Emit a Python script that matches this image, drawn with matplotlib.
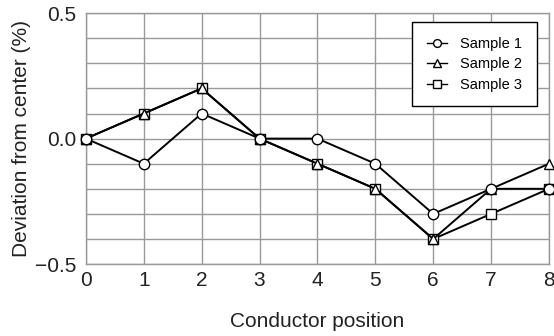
import matplotlib
matplotlib.use("Agg")
import matplotlib.pyplot as plt
import numpy as np

positions = [0, 1, 2, 3, 4, 5, 6, 7, 8]
sample1 = [0.0, -0.1, 0.1, 0.0, 0.0, -0.1, -0.3, -0.2, -0.2]
sample2 = [0.0, 0.1, 0.2, 0.0, -0.1, -0.2, -0.4, -0.2, -0.1]
sample3 = [0.0, 0.1, 0.2, 0.0, -0.1, -0.2, -0.4, -0.3, -0.2]

plt.rcParams['font.family'] = ['Liberation Sans', 'DejaVu Sans']

fig = plt.figure(figsize=(5.54, 3.36), dpi=100)
ax = fig.add_axes([0.155, 0.214, 0.836, 0.747])

common = dict(color='black', lw=1.4, mfc='white', mec='black', mew=1.0, ms=7.5, clip_on=False)
l3, = ax.plot(positions, sample3, marker='s', label='Sample 3', zorder=3, **common)
l2, = ax.plot(positions, sample2, marker='^', label='Sample 2', zorder=4, **common)
l1, = ax.plot(positions, sample1, marker='o', label='Sample 1', zorder=5, **common)

ax.set_xlim(0, 8)
ax.set_ylim(-0.5, 0.5)
ax.set_xticks(positions)
ax.set_yticks([-0.5, 0.0, 0.5])
ax.set_yticklabels(['\u22120.5', '0.0', '0.5'])
ax.set_yticks(np.arange(-0.5, 0.51, 0.1), minor=True)
ax.grid(True, which='both', color='#999999', lw=1.0)
ax.tick_params(which='both', length=0, labelsize=15, colors='#222222')
ax.tick_params(axis='y', pad=7)
ax.tick_params(axis='x', pad=5)
for s in ax.spines.values():
    s.set_color('#999999')
    s.set_linewidth(1.0)

ax.set_xlabel('Conductor position', fontsize=15, color='#222222', labelpad=16)
ax.set_ylabel('Deviation from center (%)', fontsize=15, color='#222222', labelpad=3)

leg = ax.legend([l1, l2, l3], ['Sample 1', 'Sample 2', 'Sample 3'],
                loc='upper right', bbox_to_anchor=(0.974, 0.964), borderaxespad=0,
                fontsize=10.5, markerscale=0.75, handlelength=1.4, fancybox=False,
                framealpha=1, edgecolor='black', borderpad=1.0, labelspacing=0.45,
                handletextpad=0.9)
leg.get_frame().set_linewidth(1.0)
for h in leg.legend_handles:
    h.set_linewidth(1.0)

fig.savefig('out.png', dpi=100)
